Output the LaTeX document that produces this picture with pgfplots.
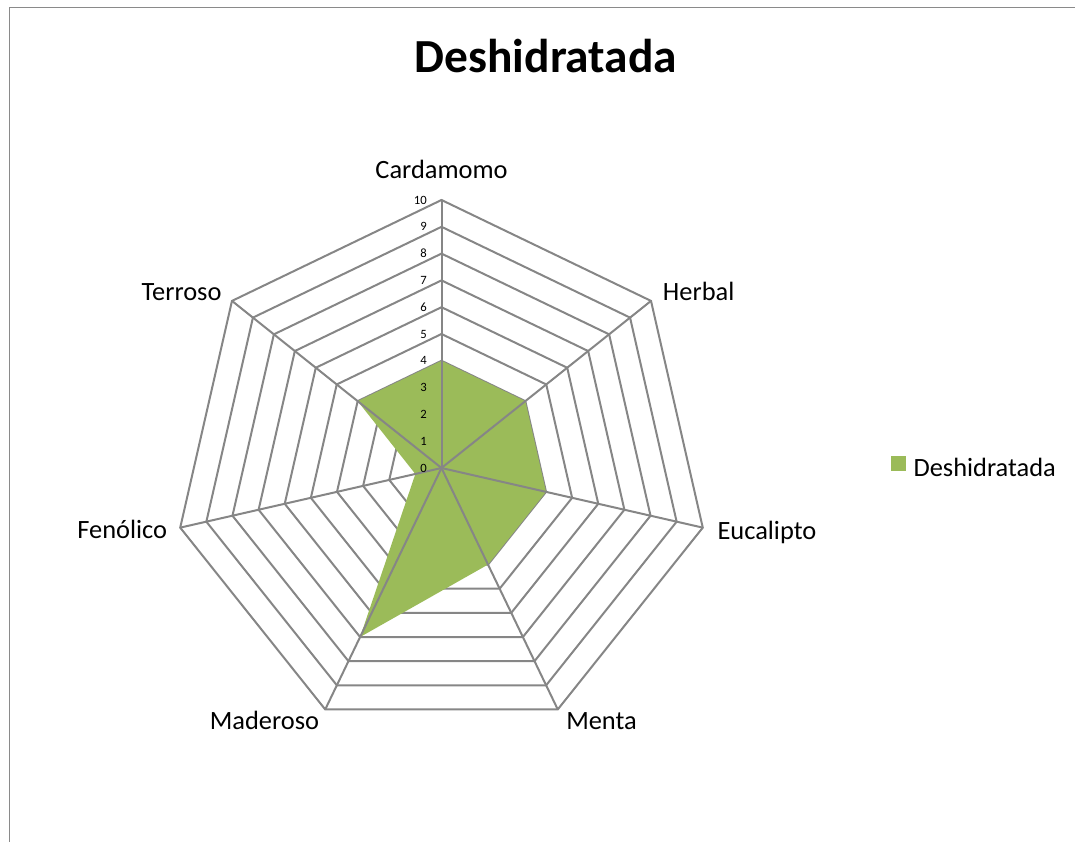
\documentclass[border=0pt]{standalone}
\usepackage{pgfplots}
\pgfplotsset{compat=1.18}
\usepgfplotslibrary{polar}
\usepackage{fontspec}
\setmainfont{Carlito}
\definecolor{gridgray}{HTML}{868686}
\definecolor{framegray}{HTML}{8A8A8A}
\definecolor{olivefill}{HTML}{9BBB59}
\begin{document}
\begin{tikzpicture}
\begin{scope}[x=0.75pt,y=0.75pt]
\useasboundingbox (0,0) rectangle (1075,842);
\draw[framegray, line width=1.2pt] (9.5,-5) -- (9.5,834.5) -- (1085,834.5);
% title
\node[anchor=base, inner sep=0pt, font=\fontsize{35.6}{42}\selectfont\bfseries] at (546,769.3) {Deshidratada};
% category labels
\begin{scope}[every node/.style={inner sep=0pt, font=\fontsize{19.8}{23}\selectfont}]
\node[anchor=base] at (441.5,663.7) {Cardamomo};
\node[anchor=base west] at (662.7,541.3) {Herbal};
\node[anchor=base west] at (717.3,302.7) {Eucalipto};
\node[anchor=base west] at (566,112.7) {Menta};
\node[anchor=base east] at (319.3,112.7) {Maderoso};
\node[anchor=base east] at (167.3,303.7) {Fenólico};
\node[anchor=base east] at (221.7,541.3) {Terroso};
\end{scope}
\end{scope}
\begin{polaraxis}[
  at={(331.125pt,280.5pt)}, anchor=center,
  hide axis, scale only axis, width=402pt, height=402pt,
  xmin=0, xmax=360, ymin=0, ymax=10, clip=false,
  legend style={draw=none, fill=none, inner sep=0pt, outer sep=0pt,
    at={(axis description cs:1.3386,0.5019)}, anchor=west,
    font=\fontsize{19.8}{23}\selectfont, nodes={inner sep=0pt}},
]
\pgfplotsinvokeforeach{1,2,3,4,5,6,7,8,9,10}{
  \addplot[forget plot, gridgray, line width=1.5pt, line join=miter, no markers]
    coordinates {(90,#1) (38.5714,#1) (347.1429,#1) (295.7143,#1) (244.2857,#1) (192.8571,#1) (141.4286,#1)} --cycle;
}
\addplot[fill=olivefill, draw=none, no markers,
  legend image code/.code={\path[fill=olivefill] (0pt,-1.9pt) rectangle (11.25pt,9.35pt); \path (16.95pt,0pt);}]
  coordinates {(90,4) (38.5714,4) (347.1429,4) (295.7143,4) (244.2857,7) (192.8571,1) (141.4286,4)} --cycle;
\addlegendentry{Deshidratada}
\addplot[forget plot, gridgray, line width=1.5pt, no markers] coordinates {(90,0) (90,10)};
\addplot[forget plot, gridgray, line width=1.5pt, no markers] coordinates {(38.5714,0) (38.5714,10)};
\addplot[forget plot, gridgray, line width=1.5pt, no markers] coordinates {(347.1429,0) (347.1429,10)};
\addplot[forget plot, gridgray, line width=1.5pt, no markers] coordinates {(295.7143,0) (295.7143,10)};
\addplot[forget plot, gridgray, line width=1.5pt, no markers] coordinates {(244.2857,0) (244.2857,10)};
\addplot[forget plot, gridgray, line width=1.5pt, no markers] coordinates {(192.8571,0) (192.8571,10)};
\addplot[forget plot, gridgray, line width=1.5pt, no markers] coordinates {(141.4286,0) (141.4286,10)};
\pgfplotsinvokeforeach{0,1,2,3,4,5,6,7,8,9,10}{
  \node[anchor=east, inner sep=0pt, xshift=-10.9pt, font=\fontsize{9.5}{11}\selectfont] at (axis cs:90,#1) {#1};
}
\end{polaraxis}
\end{tikzpicture}
\end{document}
